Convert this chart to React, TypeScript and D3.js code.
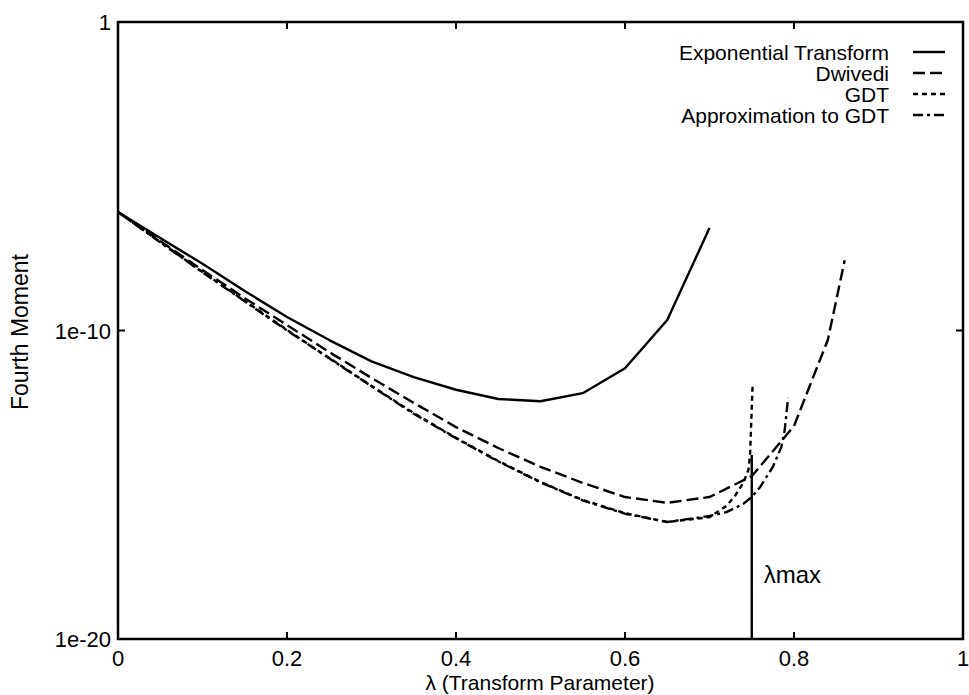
import React from "react";
import * as d3 from "d3";

const lambdaExp = [0, 0.05, 0.1, 0.15, 0.2, 0.25, 0.3, 0.35, 0.4, 0.45, 0.5, 0.55, 0.6, 0.65, 0.7];
const momentExp = [6.9e-7, 1e-7, 1.45e-8, 1.9e-9, 2.75e-10, 4.9e-11, 1.0e-11, 3.1e-12, 1.2e-12, 6e-13, 5.1e-13, 9.3e-13, 6e-12, 2.2e-10, 2.1e-7];

const lambdaDwi = [0, 0.05, 0.1, 0.15, 0.2, 0.25, 0.3, 0.35, 0.4, 0.45, 0.5, 0.55, 0.6, 0.65, 0.7, 0.75, 0.8, 0.82, 0.84, 0.86];
const momentDwi = [6.9e-7, 8e-8, 9.1e-9, 1.12e-9, 1.5e-10, 2e-11, 2.9e-12, 4.5e-13, 7.4e-14, 1.55e-14, 3.8e-15, 1.15e-15, 4e-16, 2.6e-16, 4e-16, 1.9e-15, 8e-14, 2e-12, 4.9e-11, 1.9e-8];

const lambdaGdt = [0, 0.05, 0.1, 0.15, 0.2, 0.25, 0.3, 0.35, 0.4, 0.45, 0.5, 0.55, 0.6, 0.65, 0.7, 0.72, 0.73, 0.74, 0.746, 0.748, 0.751];
const momentGdt = [6.9e-7, 7.4e-8, 7.9e-9, 9.1e-10, 1.05e-10, 1.28e-11, 1.6e-12, 2.1e-13, 3.3e-14, 5.9e-15, 1.23e-15, 3.2e-16, 1.2e-16, 6.2e-17, 8.9e-17, 2.05e-16, 4.3e-16, 1.15e-15, 3e-15, 9.2e-15, 1.7e-12];

const lambdaApx = [0, 0.05, 0.1, 0.15, 0.2, 0.25, 0.3, 0.35, 0.4, 0.45, 0.5, 0.55, 0.6, 0.65, 0.7, 0.72, 0.74, 0.75, 0.76, 0.775, 0.785, 0.789, 0.793];
const momentApx = [6.9e-7, 7.2e-8, 7.7e-9, 8.8e-10, 1.0e-10, 1.25e-11, 1.55e-12, 2.0e-13, 3.2e-14, 5.7e-15, 1.2e-15, 3.1e-16, 1.15e-16, 6.2e-17, 9.7e-17, 1.3e-16, 2.4e-16, 4e-16, 8.5e-16, 3.8e-15, 1.66e-14, 5.9e-14, 6.5e-13];

const lambdaMax = 0.75;
const lambdaMaxTop = 9.2e-15;

const seriesNames = ["Exponential Transform", "Dwivedi", "GDT", "Approximation to GDT"];
const seriesDash = ["none", "12,5", "5,4", "10,4,3,4"];

const xTicks = [0, 0.2, 0.4, 0.6, 0.8, 1];
const xTickLabels = ["0", "0.2", "0.4", "0.6", "0.8", "1"];
const yTicks = [1e-20, 1e-10, 1];
const yTickLabels = ["1e-20", "1e-10", "1"];

const FONT = "'Liberation Sans', Arial, Helvetica, sans-serif";

export default function App() {
  const left = 118, right = 963, top = 22, bottom = 639;
  const x = d3.scaleLinear().domain([0, 1]).range([left, right]);
  const y = d3.scaleLog().domain([1e-20, 1]).range([bottom, top]);

  const line = d3
    .line<[number, number]>()
    .x((d) => x(d[0]))
    .y((d) => y(d[1]));

  const series = [
    { xs: lambdaExp, ys: momentExp },
    { xs: lambdaDwi, ys: momentDwi },
    { xs: lambdaGdt, ys: momentGdt },
    { xs: lambdaApx, ys: momentApx },
  ].map((s, i) => ({
    name: seriesNames[i],
    dash: seriesDash[i],
    pts: s.xs.map((v, j) => [v, s.ys[j]] as [number, number]),
  }));

  const tickLen = 7;

  return (
    <svg width={969} height={695} style={{ position: "absolute", left: 0, top: 0, background: "#fff" }}>
      <rect x={0} y={0} width={969} height={695} fill="#fff" />
      {/* curves */}
      {series.map((s) => (
        <path
          key={s.name}
          d={line(s.pts) || ""}
          fill="none"
          stroke="#000"
          strokeWidth={2.4}
          strokeDasharray={s.dash === "none" ? undefined : s.dash}
          strokeLinejoin="round"
        />
      ))}
      {/* lambda max */}
      <line
        x1={x(lambdaMax)}
        x2={x(lambdaMax)}
        y1={y(1e-20)}
        y2={y(lambdaMaxTop)}
        stroke="#000"
        strokeWidth={2.4}
      />
      <text x={x(lambdaMax) + 12} y={583} fontFamily={FONT} fontSize={24} fill="#000">
        λmax
      </text>
      {/* ticks */}
      {xTicks.map((t) => (
        <g key={"xt" + t}>
          <line x1={x(t)} x2={x(t)} y1={bottom} y2={bottom - tickLen} stroke="#000" strokeWidth={2} />
          <line x1={x(t)} x2={x(t)} y1={top} y2={top + tickLen} stroke="#000" strokeWidth={2} />
        </g>
      ))}
      {yTicks.map((t) => (
        <g key={"yt" + t}>
          <line x1={left} x2={left + tickLen} y1={y(t)} y2={y(t)} stroke="#000" strokeWidth={2} />
          <line x1={right} x2={right - tickLen} y1={y(t)} y2={y(t)} stroke="#000" strokeWidth={2} />
        </g>
      ))}
      {/* frame */}
      <rect x={left} y={top} width={right - left} height={bottom - top} fill="none" stroke="#000" strokeWidth={2.5} />
      {/* tick labels */}
      {xTicks.map((t, i) => (
        <text key={"xl" + t} x={x(t)} y={666} textAnchor="middle" fontFamily={FONT} fontSize={22} fill="#000">
          {xTickLabels[i]}
        </text>
      ))}
      {yTicks.map((t, i) => (
        <text key={"yl" + t} x={left - 7} y={y(t) + 8} textAnchor="end" fontFamily={FONT} fontSize={22} fill="#000">
          {yTickLabels[i]}
        </text>
      ))}
      {/* axis titles */}
      <text x={540} y={689.5} textAnchor="middle" fontFamily={FONT} fontSize={21} fill="#000">
        λ (Transform Parameter)
      </text>
      <text
        transform={`translate(28, 332) rotate(-90)`}
        textAnchor="middle"
        fontFamily={FONT}
        fontSize={23}
        fill="#000"
      >
        Fourth Moment
      </text>
      {/* legend */}
      {series.map((s, i) => {
        const ly = 52 + i * 21;
        return (
          <g key={"lg" + i}>
            <text
              x={889}
              y={ly + 7.5}
              textAnchor="end"
              fontFamily={FONT}
              fontSize={21}
              fill="#000"
            >
              {s.name}
            </text>
            <line
              x1={913}
              x2={945}
              y1={ly}
              y2={ly}
              stroke="#000"
              strokeWidth={2.4}
              strokeDasharray={s.dash === "none" ? undefined : s.dash}
            />
          </g>
        );
      })}
    </svg>
  );
}
